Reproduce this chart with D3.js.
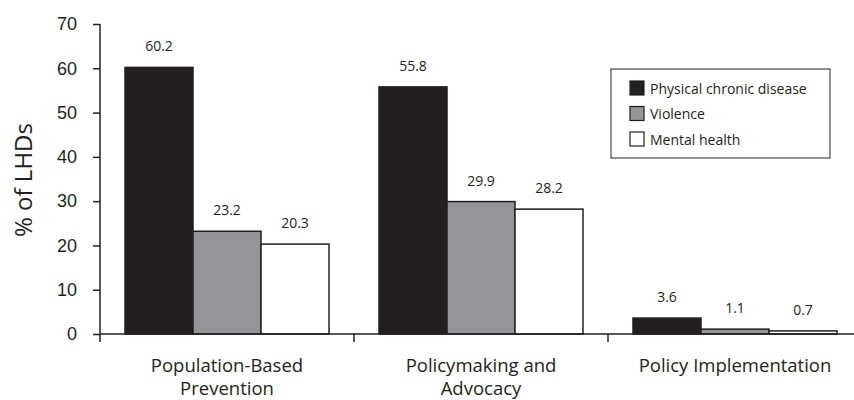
<!DOCTYPE html>
<html>
<head>
<meta charset="utf-8">
<script src="https://cdn.jsdelivr.net/npm/d3@7"></script>
<style>
  html, body { margin: 0; padding: 0; background: #fff; }
  svg { display: block; font-family: "Open Sans", "Noto Sans", sans-serif; }
</style>
</head>
<body>
<svg id="chart" width="854" height="400"></svg>
<script>
// Share of local health departments by activity area and focus
const categories = [["Population-Based", "Prevention"], ["Policymaking and", "Advocacy"], ["Policy Implementation"]];
const seriesNames = ["Physical chronic disease", "Violence", "Mental health"];
const chronic = [60.2, 55.8, 3.6];
const violence = [23.2, 29.9, 1.1];
const mental = [20.3, 28.2, 0.7];
const yTicks = [0, 10, 20, 30, 40, 50, 60, 70];
const colors = ["#231f20", "#939598", "#ffffff"];
const ink = "#231f20";

const series = [chronic, violence, mental];
const svg = d3.select("#chart");

const y = d3.scaleLinear().domain([0, 70]).range([334, 24]);
const x0 = d3.scaleBand().domain(d3.range(categories.length)).range([100, 862]).paddingInner(0).paddingOuter(0);
const x1 = d3.scaleBand().domain(d3.range(series.length)).range([25, x0.bandwidth() - 25]).padding(0);

// Y axis
const yAxis = svg.append("g").attr("transform", "translate(100,0)")
  .call(d3.axisLeft(y).tickValues(yTicks).tickSize(7).tickPadding(16).tickFormat(d3.format("d")));
yAxis.select(".domain").remove();
yAxis.selectAll(".tick line").attr("stroke", ink).attr("stroke-width", 1.5);
yAxis.selectAll(".tick text").attr("fill", ink).style("font-size", "18px").attr("font-family", "inherit");
svg.append("line").attr("x1", 100).attr("x2", 100).attr("y1", y(70)).attr("y2", 342)
  .attr("stroke", ink).attr("stroke-width", 1.5);

// Bars
const groups = svg.append("g").selectAll("g").data(categories).join("g")
  .attr("transform", (d, i) => `translate(${x0(i)},0)`);
groups.each(function(c, ci) {
  const g = d3.select(this);
  series.forEach((s, si) => {
    g.append("rect")
      .attr("x", x1(si)).attr("width", x1.bandwidth())
      .attr("y", y(s[ci])).attr("height", y(0) - y(s[ci]))
      .attr("fill", colors[si]).attr("stroke", ink).attr("stroke-width", 1.5);
    g.append("text")
      .attr("x", x1(si) + x1.bandwidth() / 2).attr("y", y(s[ci]) - 16)
      .attr("text-anchor", "middle").attr("fill", ink).style("font-size", "14px")
      .text(s[ci].toFixed(1));
  });
});

// X axis
svg.append("line").attr("x1", 100).attr("x2", 854).attr("y1", 334).attr("y2", 334)
  .attr("stroke", ink).attr("stroke-width", 1.5);
d3.range(1, categories.length).forEach(i => {
  svg.append("line").attr("x1", x0(i)).attr("x2", x0(i)).attr("y1", 334).attr("y2", 342)
    .attr("stroke", ink).attr("stroke-width", 1.5);
});
categories.forEach((lines, i) => {
  const t = svg.append("text").attr("text-anchor", "middle").attr("fill", ink).style("font-size", "18.5px");
  lines.forEach((ln, li) => {
    t.append("tspan").attr("x", x0(i) + x0.bandwidth() / 2).attr("y", 372 + li * 23).text(ln);
  });
});

// Y axis title
svg.append("text").attr("transform", "translate(32,180) rotate(-90)")
  .attr("text-anchor", "middle").attr("fill", ink).style("font-size", "24px").text("% of LHDs");

// Legend
const legend = svg.append("g").attr("transform", "translate(611,69)");
legend.append("rect").attr("width", 219).attr("height", 89).attr("fill", "#fff")
  .attr("stroke", ink).attr("stroke-width", 1);
seriesNames.forEach((n, i) => {
  legend.append("rect").attr("x", 19).attr("y", 12 + i * 25.5).attr("width", 14).attr("height", 14)
    .attr("fill", colors[i]).attr("stroke", ink).attr("stroke-width", 1.2);
  legend.append("text").attr("x", 39).attr("y", 24.5 + i * 25.5).attr("fill", ink)
    .style("font-size", "14px").text(n);
});
</script>
</body>
</html>
